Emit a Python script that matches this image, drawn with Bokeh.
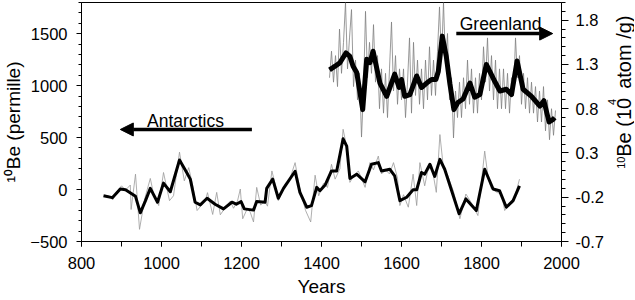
import math
from bokeh.plotting import figure
from bokeh.layouts import row
from bokeh.models import (Range1d, LinearAxis, FixedTicker, SingleIntervalTicker,
                          PrintfTickFormatter, Label, Arrow, NormalHead)
from bokeh.embed import file_html
from bokeh.resources import INLINE

# ---------------- data ----------------
# Antarctic 10Be (permille), smoothed curve
ant_years = [855, 877, 897, 910, 935, 947, 960, 972, 990, 1005, 1022, 1045, 1064, 1072,
             1084, 1097, 1114, 1134, 1155, 1176, 1187, 1199, 1207, 1230, 1238, 1259, 1263,
             1278, 1292, 1305, 1334, 1346, 1363, 1375, 1388, 1396, 1409, 1425, 1438, 1454,
             1463, 1471, 1488, 1509, 1525, 1542, 1550, 1571, 1583, 1596, 1613, 1629, 1638,
             1650, 1658, 1671, 1683, 1696, 1708, 1744, 1761, 1787, 1808, 1829, 1845, 1862,
             1879, 1895]
ant_smooth = [-59, -78, 5, -2, -65, -224, -107, 11, -122, 62, -21, 284, 157, 100,
              -122, -148, -84, -141, -186, -122, -141, -116, -186, -198, -116, -122, 11,
              100, -84, 11, 176, -27, -170, -154, 21, -11, 43, 179, 179, 488,
              417, 107, 148, 74, 243, 259, 179, 195, 131, -107, -74, -2, -2,
              164, 148, 243, 126, 290, 195, -233, -90, -202, 195, 5, -11, -170,
              -107, 36]

# Antarctic 10Be (permille), raw record
ant_raw_years = [860, 870, 878, 888, 900, 910, 922, 924, 935, 945, 958, 972, 980, 993, 1005,
                 1020, 1030, 1045, 1057, 1068, 1078, 1089, 1100, 1110, 1115, 1128, 1138, 1147,
                 1160, 1172, 1180, 1190, 1197, 1203, 1215, 1222, 1230, 1238, 1248, 1258, 1265,
                 1276, 1285, 1292, 1300, 1310, 1320, 1334, 1345, 1360, 1373, 1384, 1393, 1405,
                 1415, 1425, 1434, 1446, 1454, 1462, 1471, 1480, 1492, 1500, 1509, 1521, 1530,
                 1542, 1550, 1560, 1570, 1580, 1590, 1596, 1605, 1617, 1629, 1638, 1646, 1658,
                 1665, 1675, 1687, 1696, 1705, 1715, 1730, 1746, 1761, 1775, 1791, 1800, 1808,
                 1817, 1825, 1840, 1850, 1858, 1870, 1880, 1895]
ant_raw = [-55, -65, -100, -20, 36, -5, 43, -192, 148, -383, -90, 107, -40, -154, 164,
           -107, -60, 360, 84, 211, 40, -202, -150, -100, -30, -240, -27, -243,
           -170, -110, -180, -110, 5, -281, -180, -220, -312, 21, -150, -110, -160,
           179, 40, -107, -30, 60, 90, 259, 20, -200, -312, 138, -60, 60,
           20, 243, 100, 200, 580, 430, 69, 130, 179, 110, 21, 259, 190,
           322, 150, 190, 150, 259, 110, -154, -50, -170, 148, -154, 259, 36,
           170, 240, -27, 529, 200, 140, -20, -281, -43, -130, -250, 80, 370,
           100, 5, -30, -40, -202, -150, -120, 100]

# Greenland 10Be (10^4 atom/g), smoothed curve
grl_years = [1420, 1434, 1446, 1461, 1471, 1479, 1488, 1503, 1513, 1521, 1529, 1546, 1563,
             1583, 1594, 1600, 1608, 1621, 1638, 1650, 1663, 1675, 1686, 1692, 1702, 1712,
             1721, 1731, 1741, 1754, 1771, 1783, 1796, 1812, 1822, 1833, 1846, 1862, 1875,
             1889, 1904, 1925, 1946, 1956, 1964, 1969, 1979, 1983]
grl_smooth = [1.24, 1.28, 1.32, 1.43, 1.39, 1.28, 1.21, 0.79, 1.36, 1.32, 1.45, 1.09, 0.94,
              1.19, 1.04, 1.13, 0.94, 0.96, 1.17, 1.04, 1.09, 1.13, 1.13, 1.22, 1.62, 1.39,
              1.08, 0.79, 0.87, 0.91, 1.09, 0.93, 0.96, 1.30, 1.21, 1.11, 1.00, 1.02, 0.96,
              1.34, 1.02, 0.94, 0.83, 0.89, 0.74, 0.65, 0.68, 0.70]

# Greenland 10Be (10^4 atom/g), raw record (every 5 years)
grl_raw_years = list(range(1420, 1990, 5))
grl_raw = [1.15, 1.45, 1.10, 1.40, 1.05, 1.70, 1.20, 1.55, 2.00, 1.25,
           1.60, 1.92, 1.05, 1.35, 0.90, 1.20, 0.48, 1.00, 1.90, 1.15,
           1.55, 1.20, 1.75, 1.10, 1.40, 0.80, 1.25, 0.75, 1.20, 0.70,
           1.25, 1.78, 1.00, 1.40, 0.85, 1.25, 0.90, 1.25, 0.70, 1.10,
           1.60, 0.75, 1.55, 0.95, 1.35, 0.85, 1.25, 0.80, 1.35, 0.90,
           1.50, 0.95, 1.35, 0.95, 1.45, 1.95, 1.35, 2.00, 1.30, 1.65,
           0.90, 1.15, 0.47, 1.00, 0.70, 1.10, 0.70, 1.15, 0.80, 1.35,
           0.85, 1.25, 0.75, 1.15, 0.75, 1.20, 0.90, 1.50, 1.10, 1.60,
           1.00, 1.40, 0.90, 1.35, 0.80, 1.25, 0.80, 1.25, 0.80, 1.20,
           0.75, 1.15, 0.95, 1.60, 1.15, 1.40, 0.85, 1.20, 0.80, 1.15,
           0.75, 1.10, 0.75, 1.05, 0.65, 1.00, 0.65, 1.05, 0.55, 0.90,
           0.45, 0.80, 0.50, 0.78]

x_ticks = [800, 1000, 1200, 1400, 1600, 1800, 2000]
left_ticks = [-500, 0, 500, 1000, 1500]
right_ticks = [-0.7, -0.2, 0.3, 0.8, 1.3, 1.8]

FONT = "Liberation Sans"

fig = figure(width=606, height=299, output_backend="svg", toolbar_location=None,
             x_range=Range1d(800, 2000), y_range=Range1d(-500, 1800),
             min_border_left=81, min_border_right=44, min_border_top=2,
             min_border_bottom=56)
fig.extra_y_ranges = {"r": Range1d(-0.7, 2.0)}
fig.xgrid.visible = False
fig.ygrid.visible = False
fig.outline_line_color = "black"
fig.outline_line_width = 1
fig.background_fill_color = "white"
fig.border_fill_color = "white"

# raw records (thin grey)
fig.line(ant_raw_years, ant_raw, line_color="#9a9a9a", line_width=0.8)
fig.line(grl_raw_years, grl_raw, line_color="#808080", line_width=0.8, y_range_name="r")
# smoothed curves (thick black)
fig.line(ant_years, ant_smooth, line_color="black", line_width=3, line_join="round")
fig.line(grl_years, grl_smooth, line_color="black", line_width=5, line_join="round",
         y_range_name="r")

# axes
xa = fig.xaxis[0]
xa.ticker = FixedTicker(ticks=x_ticks, minor_ticks=list(range(800, 2001, 100)))
ya = fig.yaxis[0]
ya.ticker = SingleIntervalTicker(interval=500, num_minor_ticks=5)
ra = LinearAxis(y_range_name="r")
ra.ticker = FixedTicker(ticks=right_ticks,
                        minor_ticks=[round(-0.7 + 0.1 * i, 1) for i in range(28)])
ra.formatter = PrintfTickFormatter(format="%.1f")
fig.add_layout(ra, "right")

for ax in (xa, ya, ra):
    ax.axis_line_color = "black"
    ax.major_tick_line_color = "black"
    ax.minor_tick_line_color = "black"
    ax.major_tick_in = 0
    ax.minor_tick_in = 0
    ax.major_label_text_font = FONT
    ax.major_label_text_font_size = "16.5px"
    ax.major_label_text_color = "black"
    ax.axis_label_text_font = FONT
    ax.axis_label_text_font_style = "normal"
    ax.axis_label_text_color = "black"
xa.major_tick_out = 5
xa.minor_tick_out = 5
xa.major_label_standoff = 10
xa.axis_label = "Years"
xa.axis_label_text_font_size = "19px"
xa.axis_label_standoff = 4

ya.major_tick_out = 5
ya.minor_tick_out = 3
ya.major_label_standoff = 9
ya.axis_label = "\u00b9\u2070Be (permille)"
ya.axis_label_text_font_size = "19px"
ya.axis_label_standoff = 3

ra.major_tick_out = 7
ra.minor_tick_out = 4
ra.major_label_standoff = 7

# annotations inside the plot
def lab(target, x, y, text, size, angle=0.0):
    target.add_layout(Label(x=x, y=y, text=text, text_font=FONT, text_font_size=size,
                            text_color="black", text_align="left",
                            text_baseline="alphabetic", angle=angle))

lab(fig, 963.9, 657.7, "Antarctics", "17.5px")
lab(fig, 1745.5, 1596.8, "Greenland", "17.5px")
fig.add_layout(Arrow(x_start=1226, y_start=578, x_end=897, y_end=578, line_width=3.5,
                     end=NormalHead(size=13, fill_color="black", line_color="black")))
fig.add_layout(Arrow(x_start=1737, y_start=1501, x_end=1978, y_end=1501, line_width=3.5,
                     end=NormalHead(size=13, fill_color="black", line_color="black")))

# narrow strip to the right holding the right-hand axis title, read bottom-to-top
side = figure(width=28, height=299, output_backend="svg", toolbar_location=None,
              x_axis_location=None, y_axis_location=None,
              x_range=Range1d(0, 28), y_range=Range1d(299, 0),
              min_border_left=0, min_border_right=0, min_border_top=0, min_border_bottom=0)
side.xgrid.visible = False
side.ygrid.visible = False
side.outline_line_color = None
side.background_fill_color = "white"
side.border_fill_color = "white"
up = math.pi / 2
lab(side, 14, 208, "10", "11px", up)
lab(side, 17, 193, "Be (10", "20px", up)
lab(side, 5.7, 128.3, "4", "11px", up)
lab(side, 17, 108, "atom /g)", "20px", up)

p = row(fig, side, spacing=0)
open("out.html", "w").write(file_html(p, INLINE))
